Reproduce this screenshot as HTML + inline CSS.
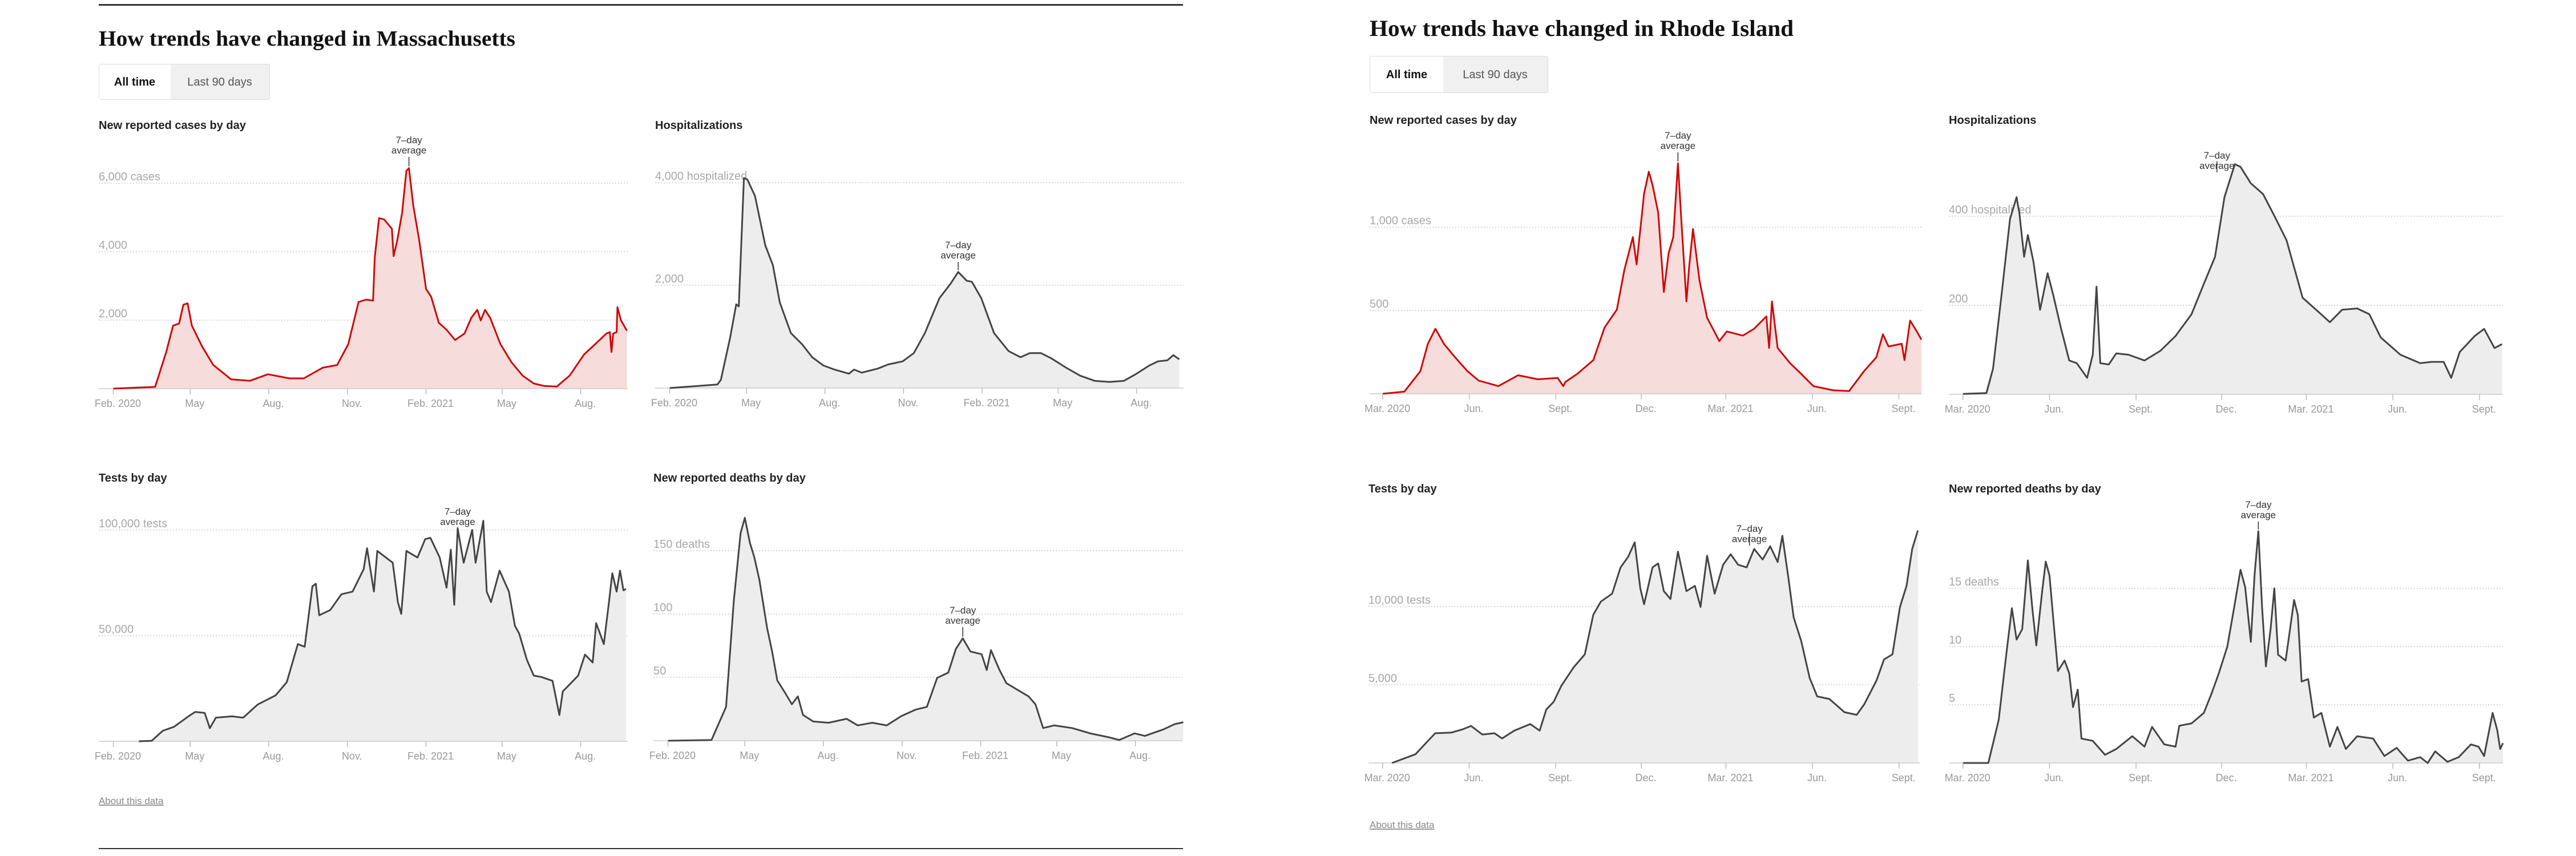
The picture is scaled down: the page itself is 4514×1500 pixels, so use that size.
<!DOCTYPE html>
<html><head><meta charset="utf-8"><style>
html,body{margin:0;padding:0;background:#fff;width:4514px;height:1500px;overflow:hidden}
svg{display:block}
.ttl{font-family:"Liberation Serif",serif;font-weight:bold;fill:#121212}
.ct{font-family:"Liberation Sans",sans-serif;font-weight:bold;font-size:20px;fill:#222}
.ax{font-family:"Liberation Sans",sans-serif;font-size:18px;fill:#999}
.gl{font-family:"Liberation Sans",sans-serif;font-size:20px;fill:#a8a8a8}
.ann{font-family:"Liberation Sans",sans-serif;font-size:17px;fill:#333}
.btn{font-family:"Liberation Sans",sans-serif;font-size:20px}
</style></head><body>
<svg id="root" width="4514" height="1500" viewBox="0 0 4514 1500" xmlns="http://www.w3.org/2000/svg">
<rect x="173" y="7" width="1900" height="3" fill="#333"/>
<rect x="173" y="1486" width="1900" height="2" fill="#333"/>
<text class="ttl" x="173" y="80" font-size="38" textLength="730" lengthAdjust="spacingAndGlyphs">How trends have changed in Massachusetts</text>
<text class="ttl" x="2400" y="63" font-size="40" textLength="743" lengthAdjust="spacingAndGlyphs">How trends have changed in Rhode Island</text>
<g>
<rect x="173.5" y="112.5" width="299" height="62" rx="3" fill="#f0f0f0" stroke="#ddd"/>
<rect x="174" y="113" width="125" height="61" fill="#fff"/>
<text class="btn" x="236" y="150" text-anchor="middle" font-weight="bold" fill="#121212">All time</text>
<text class="btn" x="385" y="150" text-anchor="middle" fill="#555">Last 90 days</text>
</g>
<g>
<rect x="2400.5" y="98.5" width="312" height="64" rx="3" fill="#f0f0f0" stroke="#ddd"/>
<rect x="2401" y="99" width="128" height="63" fill="#fff"/>
<text class="btn" x="2465" y="137" text-anchor="middle" font-weight="bold" fill="#121212">All time</text>
<text class="btn" x="2620" y="137" text-anchor="middle" fill="#555">Last 90 days</text>
</g>
<text x="173" y="1409" font-family="Liberation Sans, sans-serif" font-size="17" fill="#888" text-decoration="underline">About this data</text>
<text x="2400" y="1451" font-family="Liberation Sans, sans-serif" font-size="17" fill="#888" text-decoration="underline">About this data</text>
</svg>
<script>
// ---- Data (day = days since Feb 1 2020 for MA, since Mar 1 2020 for RI) ----
const maCasesDay = [0,49,62,70,77,82,87,92,104,117,138,160,181,206,223,245,262,275,287,296,304,306,311,317,326,328,332,338,343,346,351,358,366,372,381,390,400,411,419,426,430,435,441,453,466,479,492,504,519,534,551,564,577,581,583,585,589,590,594,601];
const maCasesVal = [0,50,1070,1840,1900,2450,2490,1840,1230,690,270,230,420,300,300,610,690,1300,2530,2600,2570,3830,4980,4940,4670,3870,4290,5130,6360,6440,5360,4330,2910,2680,1920,1720,1420,1610,2070,2300,1990,2300,2070,1300,770,380,150,80,60,380,1000,1300,1610,1650,1070,1610,1650,2380,2000,1690];
const maHospDay = [0,56,60,71,78,81,87,91,100,112,121,129,142,155,167,180,193,210,216,225,244,256,273,286,299,316,329,338,348,354,365,380,397,411,422,435,447,464,481,498,515,532,545,562,572,583,590,597];
const maHospVal = [0,70,160,990,1630,1590,4090,4060,3740,2780,2390,1670,1070,855,600,440,360,280,360,300,380,460,520,680,1070,1750,2030,2260,2090,2070,1750,1070,720,600,680,680,580,400,240,140,120,140,260,440,520,540,640,560];
const maTestsDay = [30,45,58,71,88,96,107,113,120,139,152,169,190,203,216,224,233,237,241,254,267,280,293,297,305,309,319,327,333,337,343,356,365,371,382,390,395,399,403,410,420,424,433,437,442,452,463,470,475,484,492,501,514,522,526,535,544,552,561,565,574,580,584,589,593,597,600];
const maTestsVal = [0,250,5000,6840,11800,13930,13430,6220,11190,11800,11190,17400,21770,27990,46020,44780,73380,74630,59700,62190,69650,70900,81470,91420,70900,90170,87060,84570,65920,60320,90170,87060,95770,96390,87060,72760,90790,64680,100740,84570,100110,84570,104470,70900,65920,80840,70900,54730,51000,38560,31100,30470,28610,12440,23630,27360,31100,41050,37320,55970,46020,65920,79600,70900,80840,71520,72140];
const maDeathsDay = [0,51,68,77,85,90,96,101,107,116,122,128,136,145,152,158,170,188,209,222,239,256,273,290,303,315,328,337,345,354,367,373,378,388,396,409,422,430,439,452,473,494,516,528,546,558,580,593,603];
const maDeathsVal = [0,0.6,26.7,110,164,176,156,145,127,89,70,47.5,39,28.8,35,20.4,15.2,14.2,17.3,12.1,14.2,12.1,19.4,24.6,26.7,49.6,53.8,72.5,80.8,70.4,68.3,55.8,71.5,55.8,45.4,40.2,35,28.8,10,12.1,10,5.8,2.7,0.6,5.8,3.8,9,13.1,14.6];
const riCasesDay = [0,23,40,48,56,65,77,90,102,123,144,165,186,192,194,207,224,236,249,257,266,270,278,283,287,293,299,304,309,314,318,323,326,330,337,345,358,366,383,395,408,411,414,420,433,445,458,479,496,512,525,532,538,552,555,561,568,573];
const riCasesVal = [0,13,136,300,390,300,218,136,79,46,111,87,95,46,70,120,202,398,505,743,940,776,1202,1333,1251,1087,611,842,940,1383,1005,554,768,989,677,456,316,374,349,390,464,275,554,275,185,120,46,21,16,136,218,357,284,300,202,439,374,325];
const riHospDay = [0,25,32,42,50,57,60,65,69,75,82,90,96,104,113,121,132,138,142,146,155,163,176,193,210,226,243,256,268,278,289,295,306,319,331,344,361,377,390,403,419,432,444,465,486,498,511,519,528,544,554,565,573];
const riHospVal = [1,3,58,242,394,443,407,309,358,297,190,272,223,150,76,70,37,89,242,70,67,92,89,76,98,131,180,248,309,443,517,511,474,450,401,346,217,187,162,190,193,180,128,89,70,73,73,37,95,131,147,104,113];
const riTestsDay = [10,35,48,56,73,85,94,106,119,127,140,157,167,174,182,190,203,215,224,232,244,253,261,268,274,278,287,293,299,306,314,323,332,338,345,353,362,370,378,387,395,404,412,420,425,431,437,445,454,462,475,491,504,512,525,533,542,550,557,563,569];
const riTestsVal = [0,560,1400,1900,1940,2150,2370,1820,1900,1570,2070,2490,2070,3420,3920,4930,6110,6950,9480,10320,10830,12510,13180,14110,11160,10150,12510,12760,10990,10490,13520,10990,11330,9980,13260,10830,12680,13350,12680,12510,13690,13010,13860,12850,14530,12010,9310,7800,5440,4260,4090,3250,3080,3750,5270,6620,6950,9980,11330,13690,14870];
const riDeathsDay = [0,27,38,46,52,57,63,69,74,78,84,88,92,97,101,108,113,117,122,126,138,151,163,180,193,201,214,226,230,243,256,264,272,281,289,295,300,306,310,314,318,322,327,331,335,343,352,356,360,367,373,381,390,398,407,419,436,448,461,473,486,494,502,515,527,540,548,554,563,568,571,574];
const riDeathsVal = [0,0,3.7,9.3,13.3,10.6,11.5,17.4,13.1,10.1,14.6,17.3,16.1,11.5,7.9,8.8,7.7,4.8,6.3,2.1,1.9,0.7,1.2,2.3,1.4,3.1,1.6,1.4,3.2,3.4,4.3,5.9,7.7,10,13.7,16.6,15.1,10.4,16.2,19.9,13.3,8.3,11.5,15,9.3,8.8,14,12.7,7,7.2,3.9,4.3,1.4,3.1,1.2,2.3,2.1,0.6,1.3,0.2,0.5,0,1,0.1,0.5,1.6,1.4,0.6,4.3,2.8,1.2,1.7];
const maTickDays = [0,90,182,274,366,455,547];
const maTickLabels = ["Feb. 2020","May","Aug.","Nov.","Feb. 2021","May","Aug."];
const riTickDays = [0,92,184,275,365,457,549];
const riTickLabels = ["Mar. 2020","Jun.","Sept.","Dec.","Mar. 2021","Jun.","Sept."];
const maCasesGrid = [2000,4000,6000];
const maCasesGridLabels = ["2,000","4,000","6,000 cases"];
const maHospGrid = [2000,4000];
const maHospGridLabels = ["2,000","4,000 hospitalized"];
const maTestsGrid = [50000,100000];
const maTestsGridLabels = ["50,000","100,000 tests"];
const maDeathsGrid = [50,100,150];
const maDeathsGridLabels = ["50","100","150 deaths"];
const riCasesGrid = [500,1000];
const riCasesGridLabels = ["500","1,000 cases"];
const riHospGrid = [200,400];
const riHospGridLabels = ["200","400 hospitalized"];
const riTestsGrid = [5000,10000];
const riTestsGridLabels = ["5,000","10,000 tests"];
const riDeathsGrid = [5,10,15];
const riDeathsGridLabels = ["5","10","15 deaths"];

const NS = "http://www.w3.org/2000/svg";
const root = document.getElementById('root');
function mk(tag, parent, attrs){
  const e = document.createElementNS(NS, tag);
  for (const k in attrs) e.setAttribute(k, attrs[k]);
  parent.appendChild(e);
  return e;
}
function chart(c){
  const g = mk('g', root, {});
  
  
  const xs = d => c.L + (d - c.d0) / (c.d1 - c.d0) * (c.R - c.L);
  const ys = v => c.base - v * c.k;
  const t = mk('text', g, {class:'ct', x:c.L, y:c.titleY});
  t.textContent = c.title;
  
  
  c.grid.forEach((v,i)=>{
    const y = ys(v);
    const ln = mk('line', g, {x1:c.L, x2:c.R, y1:y, y2:y, stroke:'#ccc', 'stroke-width':1.5, 'stroke-dasharray':'2,3'});
    
    
    const tl = mk('text', g, {class:'gl', x:c.L, y:y-5});
    tl.textContent = c.gridLabels[i];
    
    
  });
  const ptsArr = c.days.map((d,i)=>[xs(d), ys(c.vals[i])]);
  const line = 'M' + ptsArr.map(p=>p[0].toFixed(1)+','+p[1].toFixed(1)).join('L');
  const area = mk('path', g, {d: line + 'L' + ptsArr[ptsArr.length-1][0].toFixed(1) + ',' + c.base + 'L' + ptsArr[0][0].toFixed(1) + ',' + c.base + 'Z', fill:c.fill});
  
  
  const ax = mk('line', g, {x1:c.L, x2:c.R, y1:c.base, y2:c.base, stroke:'#ccc', 'stroke-width':1.5});
  
  
  const pl = mk('path', g, {d: line, fill:'none', stroke:c.color, 'stroke-width':3, 'stroke-linejoin':'round'});
  
  
  c.ticks.forEach((d,i)=>{
    const x = xs(d);
    const tk = mk('line', g, {x1:x, x2:x, y1:c.base, y2:c.base+10, stroke:'#bbb', 'stroke-width':1.5});
    
    
    const tx = mk('text', g, {class:'ax', x:x+8, y:c.base+32, 'text-anchor':'middle'});
    tx.textContent = c.tickLabels[i];
    
    
  });
  // 7-day average annotation
  const ax0 = xs(c.annDay), ay = ys(c.annVal);
  const a1 = mk('text', g, {class:'ann', x:ax0, y:c.annY, 'text-anchor':'middle'});
  a1.textContent = '7–day';
  
  
  const a2 = mk('text', g, {class:'ann', x:ax0, y:c.annY+18, 'text-anchor':'middle'});
  a2.textContent = 'average';
  
  
  const lk = mk('line', g, {x1:ax0, x2:ax0, y1:c.annY+24, y2:ay-3, stroke:'#333', 'stroke-width':1.5});
  
  
}
const maT = {d0:-17, d1:602, ticks:maTickDays, tickLabels:maTickLabels};
const riT = {d0:-14, d1:573, ticks:riTickDays, tickLabels:riTickLabels};
const red = {color:'#cc0a0a', fill:'#f7dcdc'}, gray = {color:'#444', fill:'#ededed'};
chart(Object.assign({name:'ma-cases', title:'New reported cases by day', L:173, R:1100, base:681, k:120/2000, titleY:226, days:maCasesDay, vals:maCasesVal, grid:maCasesGrid, gridLabels:maCasesGridLabels, annDay:346, annVal:6440, annY:251}, maT, red));
chart(Object.assign({name:'ma-hospitalizations', title:'Hospitalizations', L:1148, R:2074, base:680, k:180/2000, titleY:226, days:maHospDay, vals:maHospVal, grid:maHospGrid, gridLabels:maHospGridLabels, annDay:338, annVal:2260, annY:435}, maT, gray));
chart(Object.assign({name:'ma-tests', title:'Tests by day', L:173, R:1100, base:1299, k:185/50000, titleY:844, days:maTestsDay, vals:maTestsVal, grid:maTestsGrid, gridLabels:maTestsGridLabels, annDay:403, annVal:100740, annY:902}, maT, gray));
chart(Object.assign({name:'ma-deaths', title:'New reported deaths by day', L:1145, R:2072, base:1298, k:111/50, titleY:844, days:maDeathsDay, vals:maDeathsVal, grid:maDeathsGrid, gridLabels:maDeathsGridLabels, annDay:345, annVal:80.8, annY:1075}, maT, gray));
chart(Object.assign({name:'ri-cases', title:'New reported cases by day', L:2400, R:3367, base:690, k:146/500, titleY:217, days:riCasesDay, vals:riCasesVal, grid:riCasesGrid, gridLabels:riCasesGridLabels, annDay:314, annVal:1383, annY:243}, riT, red));
chart(Object.assign({name:'ri-hospitalizations', title:'Hospitalizations', L:3415, R:4386, base:691, k:156/200, titleY:217, days:riHospDay, vals:riHospVal, grid:riHospGrid, gridLabels:riHospGridLabels, annDay:270, annVal:520, annY:278, d0:-15, d1:574}, riT.ticks?{ticks:riTickDays, tickLabels:riTickLabels}:{}, gray, {d0:-15, d1:574}));
chart(Object.assign({name:'ri-tests', title:'Tests by day', L:2398, R:3364, base:1337, k:137/5000, titleY:863, days:riTestsDay, vals:riTestsVal, grid:riTestsGrid, gridLabels:riTestsGridLabels, annDay:390, annVal:14600, annY:932, d0:-15, d1:571}, {ticks:riTickDays, tickLabels:riTickLabels}, gray, {d0:-15, d1:571}));
chart(Object.assign({name:'ri-deaths', title:'New reported deaths by day', L:3415, R:4386, base:1337, k:102/5, titleY:863, days:riDeathsDay, vals:riDeathsVal, grid:riDeathsGrid, gridLabels:riDeathsGridLabels, annDay:314, annVal:19.9, annY:890}, {ticks:riTickDays, tickLabels:riTickLabels}, gray, {d0:-15, d1:574}));
</script>
</body></html>
